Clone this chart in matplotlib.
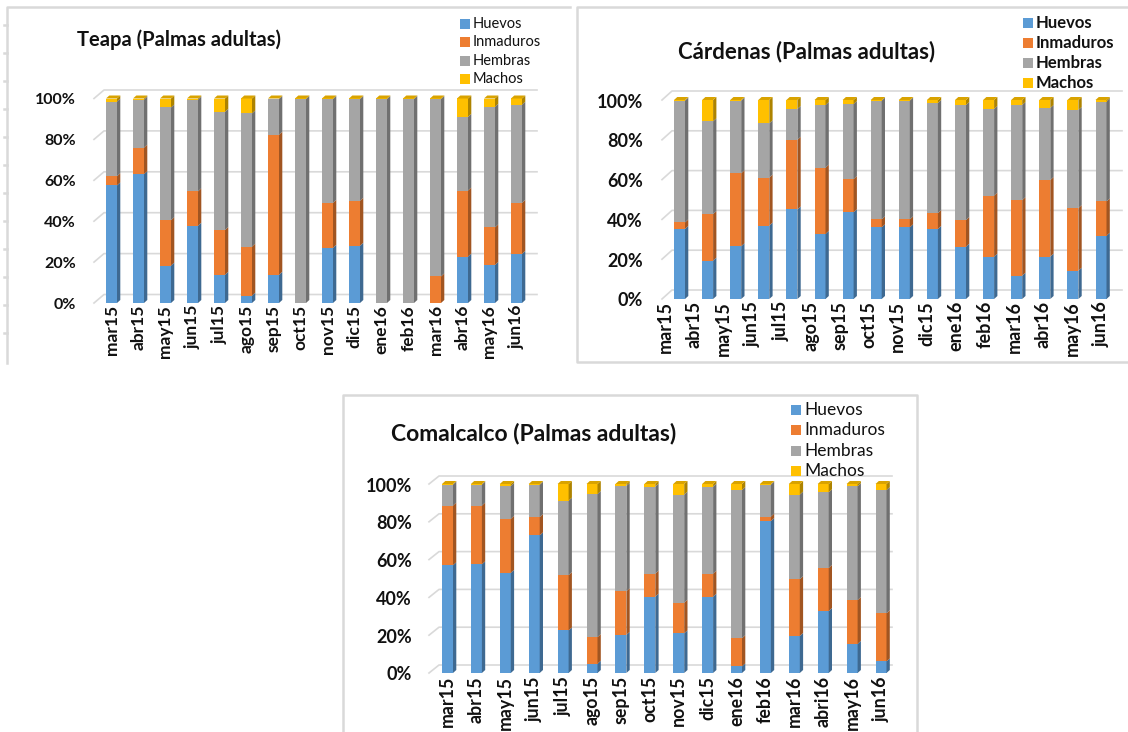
import matplotlib
matplotlib.use("Agg")
import matplotlib.pyplot as plt
from matplotlib.patches import Polygon, Rectangle
from matplotlib.lines import Line2D
from matplotlib.colors import to_rgb

plt.rcParams['font.family'] = ['Lato', 'DejaVu Sans']

W, H = 1128, 732

meses = ["mar15", "abr15", "may15", "jun15", "jul15", "ago15", "sep15", "oct15",
         "nov15", "dic15", "ene16", "feb16", "mar16", "abr16", "may16", "jun16"]
meses_comalcalco = ["mar15", "abr15", "may15", "jun15", "jul15", "ago15", "sep15", "oct15",
                    "nov15", "dic15", "ene16", "feb16", "mar16", "abri16", "may16", "jun16"]
series = ["Huevos", "Inmaduros", "Hembras", "Machos"]
colores = ["#5B9BD5", "#ED7D31", "#A5A5A5", "#FFC000"]

# porcentajes por estadio (%)
teapa_huevos = [57.5, 63.0, 18.3, 37.8, 13.8, 3.6, 13.8, 0, 27.0, 28.0, 0, 0, 0, 22.7, 18.6, 24.0]
teapa_inmaduros = [4.5, 13.0, 22.2, 16.8, 21.9, 24.0, 68.5, 0, 22.0, 22.0, 0, 0, 13.0, 32.3, 18.4, 25.0]
teapa_hembras = [36.5, 23.5, 55.1, 44.9, 57.8, 65.1, 17.4, 99.7, 50.7, 49.7, 99.7, 99.7, 86.7, 36.0, 59.0, 48.0]
teapa_machos = [1.5, 0.5, 4.4, 0.5, 6.5, 7.3, 0.3, 0.3, 0.3, 0.3, 0.3, 0.3, 0.3, 9.0, 4.0, 3.0]

cardenas_huevos = [35.2, 19.3, 26.5, 36.9, 45.0, 32.7, 43.6, 36.0, 36.0, 35.2, 26.3, 21.3, 11.7, 21.3, 14.2, 31.8]
cardenas_inmaduros = [3.3, 23.4, 36.7, 24.1, 35.0, 33.3, 16.7, 4.0, 4.0, 8.0, 13.4, 30.7, 38.0, 38.5, 31.5, 17.2]
cardenas_hembras = [61.2, 46.6, 36.5, 27.3, 15.5, 31.5, 37.7, 59.7, 59.7, 55.3, 57.8, 43.5, 47.8, 36.2, 49.3, 50.2]
cardenas_machos = [0.3, 10.7, 0.3, 11.7, 4.5, 2.5, 2.0, 0.3, 0.3, 1.5, 2.5, 4.5, 2.5, 4.0, 5.0, 0.8]

comalcalco_huevos = [57.0, 57.5, 53.0, 72.8, 22.5, 4.9, 20.2, 40.4, 21.0, 40.4, 3.5, 80.4, 19.6, 32.8, 15.4, 6.1]
comalcalco_inmaduros = [31.6, 31.1, 28.6, 9.7, 29.3, 14.1, 23.1, 12.2, 16.2, 12.2, 14.9, 2.4, 30.0, 22.8, 23.2, 25.5]
comalcalco_hembras = [11.1, 11.1, 17.4, 17.1, 39.4, 75.7, 55.7, 46.0, 57.2, 46.0, 78.4, 16.9, 44.8, 40.0, 60.2, 65.2]
comalcalco_machos = [0.3, 0.3, 1.0, 0.4, 8.8, 5.3, 1.0, 1.4, 5.6, 1.4, 3.2, 0.3, 5.6, 4.4, 1.2, 3.2]


def shade(color, f):
    r, g, b = to_rgb(color)
    return (r * f, g * f, b * f)


def fpos(x, y):
    # pixel position -> figure fraction
    return x / W, 1 - y / H


def frame(fig, pts):
    xs, ys = zip(*[fpos(*p) for p in pts])
    fig.add_artist(Line2D(xs, ys, color="#d9d9d9", lw=1.8, transform=fig.transFigure))


def panel(fig, box, geom, titulo, etiquetas, valores, fs):
    L, T, R, B = box
    x0, sp, y0, k = geom["x0"], geom["sp"], geom["y0"], geom["k"]
    ax = fig.add_axes([L / W, 1 - B / H, (R - L) / W, (B - T) / H])
    ax.set_xlim((L - x0) / sp, (R - x0) / sp)
    ax.set_ylim((y0 - B) / k, (y0 - T) / k)
    ax.axis("off")

    bw = 11.0 / sp
    ddx, ddy = 3.3 / sp, 3.0 / k

    # back wall gridlines with the short perspective step on the left
    gxl = (geom["gl"] - x0) / sp
    gdx = 10.0 / sp
    gdy = geom["gdy"] / k
    gxr = (geom["gr"] - x0) / sp
    for v in range(0, 101, 20):
        ax.add_line(Line2D([gxl, gxl + gdx, gxr], [v, v + gdy, v + gdy],
                           color="#d9d9d9", lw=1.2, zorder=1))
        ax.text((geom["tick_r"] - x0) / sp, v - 2.0 / k, f"{v}%", ha="right", va="center",
                fontsize=fs["ytick"], fontweight="bold", color="#111111")

    n = len(etiquetas)
    for i in range(n):
        base = 0.0
        top_color = None
        for j in range(4):
            h = valores[j][i]
            if h <= 0:
                continue
            c = colores[j]
            ax.add_patch(Rectangle((i - bw / 2, base), bw, h, fc=c, ec="none", zorder=3))
            xr = i + bw / 2
            ax.add_patch(Polygon([(xr, base), (xr + ddx, base + ddy),
                                  (xr + ddx, base + h + ddy), (xr, base + h)],
                                 closed=True, fc=shade(c, 0.68), ec="none", zorder=3))
            base += h
            top_color = c
        xl = i - bw / 2
        ax.add_patch(Polygon([(xl, base), (xl + ddx, base + ddy),
                              (xl + bw + ddx, base + ddy), (xl + bw, base)],
                             closed=True, fc=shade(top_color, 0.85), ec="none", zorder=4))

        off = geom["lab_off"](i, n)
        ax.text(i + off, (y0 - geom["lab_top"]) / k, etiquetas[i], rotation=90,
                ha="center", va="top", fontsize=fs["xtick"], fontweight="bold",
                color="#111111", clip_on=False)

    tx, ty = fpos(*geom["title"])
    fig.text(tx, ty, titulo, ha="center", va="center", fontsize=fs["title"],
             fontweight="bold", color="#111111")

    lx, ly0 = geom["leg"]
    for j, nombre in enumerate(series):
        yy = ly0 + j * geom["leg_dy"]
        sx, sy = fpos(lx, yy + 5)
        fig.add_artist(Rectangle((sx, sy), 10 / W, 10 / H, fc=colores[j], ec="none",
                                 transform=fig.transFigure))
        px, py = fpos(lx + 13, yy)
        fig.text(px, py, nombre, ha="left", va="center", fontsize=fs["legend"],
                 fontweight=fs["legw"], color="#111111")
    return ax


fig = plt.figure(figsize=(W / 100, H / 100), dpi=100)
fig.patch.set_facecolor("white")

# panel borders
frame(fig, [(570, 7), (7, 7), (7, 363)])
for y in range(25, 340, 28):
    frame(fig, [(4, y), (7, y)])
frame(fig, [(1127, 7), (577, 7), (577, 362), (1127, 362)])
frame(fig, [(343, 732), (343, 395), (917, 395), (917, 732)])

panel(fig, (30, 60, 570, 360),
      dict(x0=111.5, sp=27.0, y0=303.0, k=2.045, gl=94, gr=537, gdy=8.5, tick_r=76,
           lab_top=305, lab_off=lambda i, n: 0.0,
           title=(179, 40), leg=(460, 24), leg_dy=18.3),
      "Teapa (Palmas adultas)", meses,
      [teapa_huevos, teapa_inmaduros, teapa_hembras, teapa_machos],
      dict(ytick=11.5, xtick=12.5, title=14.5, legend=10.5, legw="normal"))

panel(fig, (590, 60, 1127, 360),
      dict(x0=679.5, sp=28.1, y0=299.0, k=1.99, gl=662, gr=1122, gdy=9.0, tick_r=643,
           lab_top=301, lab_off=lambda i, n: -0.5 * (1 - i / (n - 1)),
           title=(807, 52), leg=(1023, 23), leg_dy=20.0),
      "Cárdenas (Palmas adultas)", meses,
      [cardenas_huevos, cardenas_inmaduros, cardenas_hembras, cardenas_machos],
      dict(ytick=13, xtick=13, title=16, legend=12, legw="bold"))

panel(fig, (350, 455, 917, 732),
      dict(x0=447.5, sp=28.9, y0=673.0, k=1.89, gl=429, gr=892, gdy=8.0, tick_r=412,
           lab_top=676, lab_off=lambda i, n: 0.0,
           title=(534, 433), leg=(791, 410), leg_dy=20.3),
      "Comalcalco (Palmas adultas)", meses_comalcalco,
      [comalcalco_huevos, comalcalco_inmaduros, comalcalco_hembras, comalcalco_machos],
      dict(ytick=13, xtick=12.8, title=16.5, legend=12.5, legw="normal"))

fig.savefig("out.png", dpi=100, facecolor="white")
